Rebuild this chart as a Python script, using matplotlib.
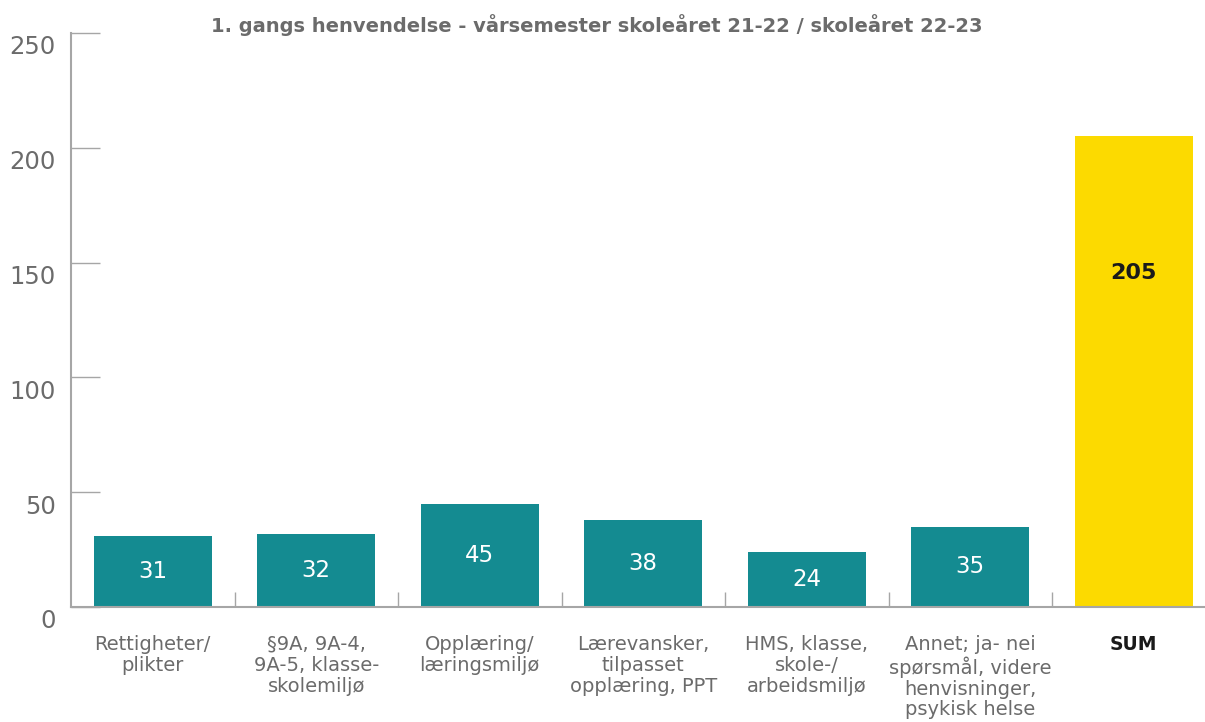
import matplotlib.pyplot as plt
from matplotlib.transforms import ScaledTranslation

plt.rcParams['font.family'] = ['DejaVu Sans']

# Data
categories = ['Rettigheter/\nplikter',
              '§9A, 9A-4,\n9A-5, klasse-\nskolemiljø',
              'Opplæring/\nlæringsmiljø',
              'Lærevansker,\ntilpasset\nopplæring, PPT',
              'HMS, klasse,\nskole-/\narbeidsmiljø',
              'Annet; ja- nei\nspørsmål, videre\nhenvisninger,\npsykisk helse',
              'SUM']
values = [31, 32, 45, 38, 24, 35, 205]
yticks = [0, 50, 100, 150, 200, 250]

teal = '#148B91'
yellow = '#FCDA00'
text_grey = '#6B6B6B'
axis_grey = '#A6A6A6'

fig = plt.figure(figsize=(12.05, 7.22), dpi=100)
ax = fig.add_axes([71 / 1205, 115 / 722, 1144.5 / 1205, 574 / 722])

x = list(range(len(categories)))
colors = [teal] * (len(values) - 1) + [yellow]
bars = ax.bar(x, values, width=0.72, color=colors, zorder=2)

# value labels
for i, v in enumerate(values):
    if categories[i] == 'SUM':
        ax.text(i, v * 0.71, str(v), ha='center', va='center',
                fontsize=16, fontweight='bold', color='#1A1A1A')
    else:
        ax.text(i, v / 2, str(v), ha='center', va='center',
                fontsize=16.5, color='white')

ax.set_xlim(-0.5, len(categories) - 0.5)
ax.set_ylim(0, 250)

# y axis
ax.set_yticks(yticks)
ax.tick_params(axis='y', direction='in', length=21, width=1, color=axis_grey,
               labelsize=17.5, labelcolor=text_grey, pad=11)
shift = ScaledTranslation(0, -0.12, fig.dpi_scale_trans)
for lbl in ax.get_yticklabels():
    lbl.set_transform(lbl.get_transform() + shift)

# x axis: category labels, boundary ticks
ax.set_xticks(x)
ax.set_xticklabels(categories, fontsize=14, color=text_grey, linespacing=1.13)
ax.tick_params(axis='x', length=0, pad=20)
ax.set_xticks([i + 0.5 for i in x[:-1]], minor=True)
ax.tick_params(axis='x', which='minor', direction='in', length=11, width=1,
               color=axis_grey)
for lbl in ax.get_xticklabels():
    if lbl.get_text() == 'SUM':
        lbl.set_fontweight('bold')
        lbl.set_fontsize(13.5)
        lbl.set_color('#1A1A1A')

for side in ['top', 'right']:
    ax.spines[side].set_visible(False)
for side in ['left', 'bottom']:
    ax.spines[side].set_color(axis_grey)
    ax.spines[side].set_linewidth(1.5)

fig.text(0.495, 0.965, '1. gangs henvendelse - vårsemester skoleåret 21-22 / skoleåret 22-23',
         ha='center', va='center', fontsize=14, fontweight='bold', color=text_grey)

fig.savefig('out.png', dpi=100)
